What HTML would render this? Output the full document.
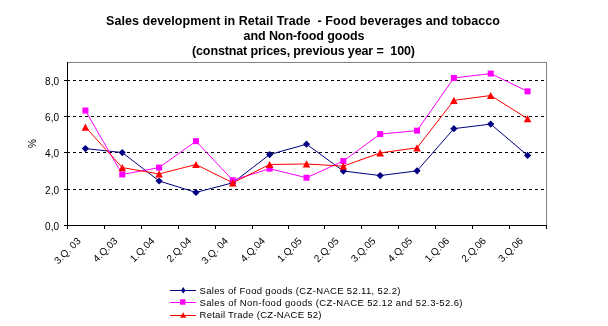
<!DOCTYPE html><html><head><meta charset="utf-8"><style>html,body{margin:0;padding:0;background:#fff;width:608px;height:326px;overflow:hidden}svg{display:block}</style></head><body><svg width="608" height="326" viewBox="0 0 608 326" shape-rendering="crispEdges">
<defs><filter id="gs" x="0" y="0" width="608" height="326" filterUnits="userSpaceOnUse"><feColorMatrix type="matrix" values="1 0 0 0 0  0 1 0 0 0  0 0 1 0 0  0 0 0 1 0"/></filter></defs>
<rect width="608" height="326" fill="#fff"/>
<g filter="url(#gs)" font-family="'Liberation Sans', sans-serif" font-weight="bold" font-size="12.5" fill="#000" xml:space="preserve" style="white-space:pre">
<text style="white-space:pre" x="106" y="25" textLength="394" lengthAdjust="spacing">Sales development in Retail Trade  - Food beverages and tobacco</text>
<text x="243.5" y="40" textLength="121" lengthAdjust="spacing">and Non-food goods</text>
<text style="white-space:pre" x="192" y="55" textLength="223" lengthAdjust="spacing">(constnat prices, previous year =  100)</text>
</g>
<line x1="67" y1="189.5" x2="545" y2="189.5" stroke="#000" stroke-width="1" stroke-dasharray="3,3"/>
<line x1="67" y1="152.5" x2="545" y2="152.5" stroke="#000" stroke-width="1" stroke-dasharray="3,3"/>
<line x1="67" y1="116.5" x2="545" y2="116.5" stroke="#000" stroke-width="1" stroke-dasharray="3,3"/>
<line x1="67" y1="80.5" x2="545" y2="80.5" stroke="#000" stroke-width="1" stroke-dasharray="3,3"/>
<line x1="67" y1="62.5" x2="547" y2="62.5" stroke="#808080" stroke-width="1"/>
<line x1="546.5" y1="62" x2="546.5" y2="225" stroke="#808080" stroke-width="1"/>
<line x1="67.5" y1="62" x2="67.5" y2="226" stroke="#000" stroke-width="1"/>
<line x1="64" y1="225.5" x2="547" y2="225.5" stroke="#000" stroke-width="1"/>
<line x1="64" y1="225.5" x2="67" y2="225.5" stroke="#000" stroke-width="1"/>
<line x1="64" y1="189.5" x2="67" y2="189.5" stroke="#000" stroke-width="1"/>
<line x1="64" y1="152.5" x2="67" y2="152.5" stroke="#000" stroke-width="1"/>
<line x1="64" y1="116.5" x2="67" y2="116.5" stroke="#000" stroke-width="1"/>
<line x1="64" y1="80.5" x2="67" y2="80.5" stroke="#000" stroke-width="1"/>
<line x1="67.5" y1="225" x2="67.5" y2="229" stroke="#000" stroke-width="1"/>
<line x1="104.5" y1="225" x2="104.5" y2="229" stroke="#000" stroke-width="1"/>
<line x1="141.5" y1="225" x2="141.5" y2="229" stroke="#000" stroke-width="1"/>
<line x1="178.5" y1="225" x2="178.5" y2="229" stroke="#000" stroke-width="1"/>
<line x1="215.5" y1="225" x2="215.5" y2="229" stroke="#000" stroke-width="1"/>
<line x1="252.5" y1="225" x2="252.5" y2="229" stroke="#000" stroke-width="1"/>
<line x1="288.5" y1="225" x2="288.5" y2="229" stroke="#000" stroke-width="1"/>
<line x1="324.5" y1="225" x2="324.5" y2="229" stroke="#000" stroke-width="1"/>
<line x1="361.5" y1="225" x2="361.5" y2="229" stroke="#000" stroke-width="1"/>
<line x1="398.5" y1="225" x2="398.5" y2="229" stroke="#000" stroke-width="1"/>
<line x1="435.5" y1="225" x2="435.5" y2="229" stroke="#000" stroke-width="1"/>
<line x1="472.5" y1="225" x2="472.5" y2="229" stroke="#000" stroke-width="1"/>
<line x1="509.5" y1="225" x2="509.5" y2="229" stroke="#000" stroke-width="1"/>
<line x1="546.5" y1="225" x2="546.5" y2="229" stroke="#000" stroke-width="1"/>
<g filter="url(#gs)" font-family="'Liberation Sans', sans-serif" font-size="10" fill="#000" text-anchor="end">
<text x="59" y="229.5">0,0</text>
<text x="59" y="193.5">2,0</text>
<text x="59" y="156.5">4,0</text>
<text x="59" y="120.5">6,0</text>
<text x="59" y="84.5">8,0</text>
</g>
<g filter="url(#gs)"><text x="0" y="0" font-family="'Liberation Sans', sans-serif" font-size="10" text-anchor="middle" transform="translate(36,143.5) rotate(-90)">%</text></g>
<g filter="url(#gs)" font-family="'Liberation Sans', sans-serif" font-size="10" fill="#000" text-anchor="end">
<text x="0" y="0" transform="translate(81.42,241.5) rotate(-45)">3.Q. 03</text>
<text x="0" y="0" transform="translate(118.27,241.5) rotate(-45)">4.Q.03</text>
<text x="0" y="0" transform="translate(155.12,241.5) rotate(-45)">1.Q.04</text>
<text x="0" y="0" transform="translate(191.96,241.5) rotate(-45)">2.Q.04</text>
<text x="0" y="0" transform="translate(228.81,241.5) rotate(-45)">3.Q. 04</text>
<text x="0" y="0" transform="translate(265.65,241.5) rotate(-45)">4.Q.04</text>
<text x="0" y="0" transform="translate(302.50,241.5) rotate(-45)">1.Q.05</text>
<text x="0" y="0" transform="translate(339.35,241.5) rotate(-45)">2.Q.05</text>
<text x="0" y="0" transform="translate(376.19,241.5) rotate(-45)">3.Q.05</text>
<text x="0" y="0" transform="translate(413.04,241.5) rotate(-45)">4.Q.05</text>
<text x="0" y="0" transform="translate(449.88,241.5) rotate(-45)">1.Q.06</text>
<text x="0" y="0" transform="translate(486.73,241.5) rotate(-45)">2.Q.06</text>
<text x="0" y="0" transform="translate(523.58,241.5) rotate(-45)">3.Q.06</text>
</g>
<g shape-rendering="auto">
<polyline points="85.42,148.57 122.27,152.56 159.12,180.99 195.96,192.40 232.81,182.80 269.65,154.55 306.50,144.22 343.35,171.03 380.19,175.56 417.04,170.85 453.88,128.65 490.73,124.12 527.58,155.45" fill="none" stroke="#000080" stroke-width="1"/>
<polygon points="85.42,144.97 89.02,148.57 85.42,152.17 81.82,148.57" fill="#000080"/>
<polygon points="122.27,148.96 125.87,152.56 122.27,156.16 118.67,152.56" fill="#000080"/>
<polygon points="159.12,177.39 162.72,180.99 159.12,184.59 155.52,180.99" fill="#000080"/>
<polygon points="195.96,188.80 199.56,192.40 195.96,196.00 192.36,192.40" fill="#000080"/>
<polygon points="232.81,179.20 236.41,182.80 232.81,186.40 229.21,182.80" fill="#000080"/>
<polygon points="269.65,150.95 273.25,154.55 269.65,158.15 266.05,154.55" fill="#000080"/>
<polygon points="306.50,140.62 310.10,144.22 306.50,147.82 302.90,144.22" fill="#000080"/>
<polygon points="343.35,167.43 346.95,171.03 343.35,174.63 339.75,171.03" fill="#000080"/>
<polygon points="380.19,171.96 383.79,175.56 380.19,179.16 376.59,175.56" fill="#000080"/>
<polygon points="417.04,167.25 420.64,170.85 417.04,174.45 413.44,170.85" fill="#000080"/>
<polygon points="453.88,125.05 457.48,128.65 453.88,132.25 450.28,128.65" fill="#000080"/>
<polygon points="490.73,120.52 494.33,124.12 490.73,127.72 487.13,124.12" fill="#000080"/>
<polygon points="527.58,151.85 531.18,155.45 527.58,159.05 523.98,155.45" fill="#000080"/>
<polyline points="85.42,110.54 122.27,174.47 159.12,167.59 195.96,141.15 232.81,180.27 269.65,168.67 306.50,177.73 343.35,161.07 380.19,134.08 417.04,130.64 453.88,77.94 490.73,73.59 527.58,91.34" fill="none" stroke="#FF00FF" stroke-width="1"/>
<rect x="82.42" y="107.54" width="6" height="6" fill="#FF00FF"/>
<rect x="119.27" y="171.47" width="6" height="6" fill="#FF00FF"/>
<rect x="156.12" y="164.59" width="6" height="6" fill="#FF00FF"/>
<rect x="192.96" y="138.15" width="6" height="6" fill="#FF00FF"/>
<rect x="229.81" y="177.27" width="6" height="6" fill="#FF00FF"/>
<rect x="266.65" y="165.67" width="6" height="6" fill="#FF00FF"/>
<rect x="303.50" y="174.73" width="6" height="6" fill="#FF00FF"/>
<rect x="340.35" y="158.07" width="6" height="6" fill="#FF00FF"/>
<rect x="377.19" y="131.08" width="6" height="6" fill="#FF00FF"/>
<rect x="414.04" y="127.64" width="6" height="6" fill="#FF00FF"/>
<rect x="450.88" y="74.94" width="6" height="6" fill="#FF00FF"/>
<rect x="487.73" y="70.59" width="6" height="6" fill="#FF00FF"/>
<rect x="524.58" y="88.34" width="6" height="6" fill="#FF00FF"/>
<polyline points="85.42,127.02 122.27,167.59 159.12,173.93 195.96,164.51 232.81,182.80 269.65,164.51 306.50,163.97 343.35,166.14 380.19,152.92 417.04,147.85 453.88,100.40 490.73,95.51 527.58,118.69" fill="none" stroke="#FF0000" stroke-width="1"/>
<polygon points="85.42,123.41 89.22,130.63 81.62,130.63" fill="#FF0000"/>
<polygon points="122.27,163.98 126.07,171.20 118.47,171.20" fill="#FF0000"/>
<polygon points="159.12,170.32 162.92,177.54 155.32,177.54" fill="#FF0000"/>
<polygon points="195.96,160.90 199.76,168.12 192.16,168.12" fill="#FF0000"/>
<polygon points="232.81,179.19 236.61,186.41 229.01,186.41" fill="#FF0000"/>
<polygon points="269.65,160.90 273.45,168.12 265.85,168.12" fill="#FF0000"/>
<polygon points="306.50,160.36 310.30,167.58 302.70,167.58" fill="#FF0000"/>
<polygon points="343.35,162.53 347.15,169.75 339.55,169.75" fill="#FF0000"/>
<polygon points="380.19,149.31 383.99,156.53 376.39,156.53" fill="#FF0000"/>
<polygon points="417.04,144.24 420.84,151.46 413.24,151.46" fill="#FF0000"/>
<polygon points="453.88,96.79 457.68,104.01 450.08,104.01" fill="#FF0000"/>
<polygon points="490.73,91.90 494.53,99.12 486.93,99.12" fill="#FF0000"/>
<polygon points="527.58,115.08 531.38,122.30 523.78,122.30" fill="#FF0000"/>
</g>
<line x1="170" y1="290.5" x2="196" y2="290.5" stroke="#000080" stroke-width="1"/>
<line x1="170" y1="302.5" x2="196" y2="302.5" stroke="#FF00FF" stroke-width="1"/>
<line x1="170" y1="315.5" x2="196" y2="315.5" stroke="#FF0000" stroke-width="1"/>
<g shape-rendering="auto">
<polygon points="183.2,287 185.4,290.5 183.2,293.5 181,290.5" fill="#000080"/>
<rect x="180.00" y="299.30" width="5.4" height="5.4" fill="#FF00FF"/>
<polygon points="183.20,312.15 186.20,317.85 180.20,317.85" fill="#FF0000"/>
</g>
<g filter="url(#gs)" font-family="'Liberation Sans', sans-serif" font-size="9.5" fill="#000">
<text x="199.5" y="294" textLength="201" lengthAdjust="spacing">Sales of Food goods (CZ-NACE 52.11, 52.2)</text>
<text x="199.5" y="306" textLength="263" lengthAdjust="spacing">Sales of Non-food goods (CZ-NACE 52.12 and 52.3-52.6)</text>
<text x="199.5" y="318" textLength="122" lengthAdjust="spacing">Retail Trade (CZ-NACE 52)</text>
</g>
</svg></body></html>
